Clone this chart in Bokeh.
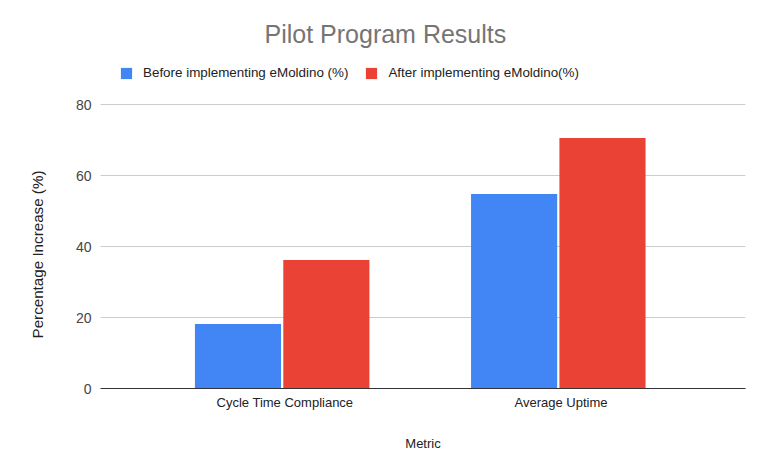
from bokeh.plotting import figure
from bokeh.models import ColumnDataSource, FactorRange, Legend, LegendItem, FixedTicker, Range1d, Title
from bokeh.transform import dodge
from bokeh.embed import file_html
from bokeh.resources import INLINE

metrics = ["Cycle Time Compliance", "Average Uptime"]
before = [18.2, 54.8]
after = [36.2, 70.6]
series_names = ["Before implementing eMoldino (%)", "After implementing eMoldino(%)"]
colors = ["#4285F4", "#EA4335"]
y_ticks = [0, 20, 40, 60, 80]

source = ColumnDataSource(dict(metric=metrics, before=before, after=after))

FONT = "Liberation Sans"

p = figure(
    x_range=FactorRange(factors=metrics, range_padding=0.168),
    y_range=Range1d(0, 94.65),
    width=752, height=458,
    output_backend="svg", toolbar_location=None,
    min_border_left=98, min_border_right=7, min_border_top=52, min_border_bottom=70,
    title="Pilot Program Results",
)
p.outline_line_color = None
p.background_fill_color = "white"
p.border_fill_color = "white"

r1 = p.vbar(x=dodge("metric", -0.170, range=p.x_range), top="before", width=0.312,
            source=source, fill_color=colors[0], line_color=None)
r2 = p.vbar(x=dodge("metric", 0.150, range=p.x_range), top="after", width=0.312,
            source=source, fill_color=colors[1], line_color=None)

# title
p.title.align = "left"
p.title.offset = 164
p.title.text_font = FONT
p.title.text_font_size = "25px"
p.title.text_font_style = "normal"
p.title.text_color = "#757575"

# legend
legend = Legend(items=[LegendItem(label=series_names[0], renderers=[r1]),
                       LegendItem(label=series_names[1], renderers=[r2])],
                orientation="horizontal", location=(19, 308),
                border_line_color=None, background_fill_alpha=0,
                label_text_font=FONT, label_text_font_size="13.4px", label_text_color="#222222",
                glyph_width=14, glyph_height=14, spacing=16, label_standoff=10,
                padding=4, margin=0)
p.add_layout(legend)

# y axis
p.yaxis.ticker = FixedTicker(ticks=y_ticks)
p.yaxis.axis_line_color = None
p.yaxis.major_tick_line_color = None
p.yaxis.minor_tick_line_color = None
p.yaxis.major_label_standoff = 3
p.yaxis.major_label_text_font = FONT
p.yaxis.major_label_text_font_size = "14px"
p.yaxis.major_label_text_color = "#444444"

# y axis title (placed as a left-side title so it centres on the 0-80 area)
ytitle = Title(text="Percentage Increase (%)", align="left", offset=50, standoff=53,
               text_font=FONT, text_font_size="15.2px", text_font_style="normal",
               text_color="#222222")
p.add_layout(ytitle, "left")

# x axis
p.xaxis.axis_line_color = "#333333"
p.xaxis.axis_line_width = 1
p.xaxis.major_tick_line_color = None
p.xaxis.minor_tick_line_color = None
p.xaxis.major_label_standoff = 0
p.xaxis.major_label_text_font = FONT
p.xaxis.major_label_text_font_size = "13px"
p.xaxis.major_label_text_color = "#222222"
p.xaxis.axis_label = "Metric"
p.xaxis.axis_label_text_font = FONT
p.xaxis.axis_label_text_font_size = "13px"
p.xaxis.axis_label_text_font_style = "normal"
p.xaxis.axis_label_text_color = "#222222"
p.xaxis.axis_label_standoff = 23

p.xgrid.grid_line_color = None
p.ygrid.grid_line_color = "#cccccc"
p.ygrid.grid_line_width = 1

open("out.html", "w").write(file_html(p, INLINE))
